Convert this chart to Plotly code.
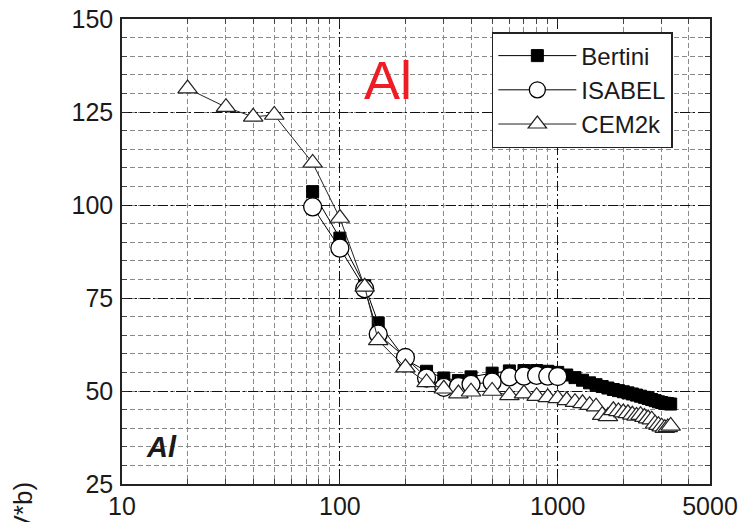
import plotly.graph_objects as go

# ---- data ----
cem_E = [20, 30, 40, 50, 75, 100, 130, 150, 200, 250, 300, 350, 400, 500, 600, 700, 800, 900, 1000,
         1100, 1200, 1300, 1400, 1500, 1600, 1700, 1800, 1900, 2000, 2100, 2200, 2300, 2400, 2500,
         2600, 2700, 2800, 2900, 3000, 3100, 3200, 3300]
cem_Y = [131.3, 126.3, 123.7, 124.2, 111.3, 96.5, 78.0, 63.6, 56.3, 52.3, 50.6, 49.3, 49.8, 50.0, 48.8,
         49.3, 48.6, 48.3, 48.0,
         47.5, 47.0, 46.7, 46.2, 45.8, 43.5, 43.2, 44.8, 44.5, 44.2, 44.0, 43.6, 43.3, 43.5, 43.0,
         42.6, 42.3, 41.2, 40.8, 40.4, 40.0, 40.2, 40.6]

bertini_E = [75, 100, 130, 150, 200, 250, 300, 350, 400, 500, 600, 700, 800, 900, 1000,
             1100, 1200, 1300, 1400, 1500, 1600, 1700, 1800, 1900, 2000, 2100, 2200, 2300, 2400, 2500,
             2600, 2700, 2800, 2900, 3000, 3100, 3200, 3300]
bertini_Y = [103.6, 91.1, 78.3, 68.3, 58.5, 55.3, 53.5, 52.8, 53.8, 54.8, 55.4, 55.5, 55.5, 55.3, 55.0,
             54.3, 53.6, 52.9, 52.2, 51.7, 51.2, 50.8, 50.4, 50.1, 49.8, 49.5, 49.2, 48.9, 48.6, 48.3,
             48.0, 47.7, 47.4, 47.1, 46.9, 46.7, 46.6, 46.5]

isabel_E = [75, 100, 130, 150, 200, 250, 300, 350, 400, 500, 600, 700, 800, 900, 1000]
isabel_Y = [99.5, 88.4, 77.5, 65.3, 59.0, 53.5, 51.0, 51.2, 51.8, 52.4, 53.8, 54.0, 54.2, 54.0, 53.9]

x_ticks = [10, 100, 1000, 5000]
x_minor = [20, 30, 40, 50, 60, 70, 80, 90, 200, 300, 400, 500, 600, 700, 800, 900, 2000, 3000, 4000]
y_ticks = [25, 50, 75, 100, 125, 150]

FONT = "Liberation Sans, Arial, Helvetica, sans-serif"
INK = "#1a1a1a"

fig = go.Figure()
fig.add_trace(go.Scatter(
    x=bertini_E, y=bertini_Y, name="Bertini", mode="lines+markers",
    line=dict(color="black", width=1),
    marker=dict(symbol="square", size=12, color="black", line=dict(color="black", width=1))))
fig.add_trace(go.Scatter(
    x=isabel_E, y=isabel_Y, name="ISABEL", mode="lines+markers",
    line=dict(color="black", width=1),
    marker=dict(symbol="circle", size=18, color="white", line=dict(color="black", width=1.3))))
fig.add_trace(go.Scatter(
    x=cem_E, y=cem_Y, name="CEM2k", mode="lines+markers",
    line=dict(color="#222222", width=1),
    marker=dict(symbol="triangle-up", size=17, color="white", line=dict(color="#222222", width=1.2))))

fig.update_xaxes(
    type="log", range=[1, 3.69897], automargin=False,
    tickmode="array", tickvals=x_ticks, ticktext=[str(v) for v in x_ticks],
    tickfont=dict(family=FONT, size=25, color=INK),
    showline=True, linecolor="#222222", linewidth=1.5, mirror="ticks",
    ticks="inside", ticklen=6, tickcolor="#222222",
    showgrid=True, gridcolor="#111111", gridwidth=1.2, griddash="10px,3px,2px,3px",
    minor=dict(tickmode="array", tickvals=x_minor, ticks="inside", ticklen=5, tickcolor="#444444",
               showgrid=True, gridcolor="#8a8a8a", gridwidth=1, griddash="5px,3px"),
    zeroline=False, ticklabelstandoff=-1,
)
fig.update_yaxes(
    range=[25, 150], automargin=False,
    tickmode="array", tickvals=y_ticks,
    tickfont=dict(family=FONT, size=25, color=INK),
    showline=True, linecolor="#222222", linewidth=1.5, mirror="ticks",
    ticks="inside", ticklen=6, tickcolor="#222222",
    showgrid=True, gridcolor="#111111", gridwidth=1.2, griddash="10px,3px,2px,3px",
    minor=dict(dtick=5, ticks="inside", ticklen=5, tickcolor="#444444",
               showgrid=True, gridcolor="#8a8a8a", gridwidth=1, griddash="5px,3px"),
    zeroline=False, ticklabelstandoff=2,
)

fig.add_annotation(text="Al", xref="paper", yref="paper", x=0.452, y=0.869,
                   xanchor="center", yanchor="middle",
                   showarrow=False, font=dict(family=FONT, size=54, color="#ee1c25"))
fig.add_annotation(text="<b><i>Al</i></b>", xref="paper", yref="paper", x=0.068, y=0.080,
                   xanchor="center", yanchor="middle",
                   showarrow=False, font=dict(family=FONT, size=29, color=INK))
fig.add_annotation(text="E·σ (MeV*b)", xref="paper", yref="paper", x=-0.168, y=0.009,
                   xanchor="center", yanchor="top", textangle=-90,
                   showarrow=False, font=dict(family=FONT, size=26, color=INK))

fig.update_layout(
    width=740, height=522,
    margin=dict(l=122, r=30, t=19, b=38),
    paper_bgcolor="white", plot_bgcolor="white",
    showlegend=True,
    legend=dict(x=0.629, y=0.972, xanchor="left", yanchor="top",
                bgcolor="white", bordercolor="#222222", borderwidth=1.5,
                font=dict(family=FONT, size=24, color=INK),
                itemwidth=78, tracegroupgap=0),
)

fig.write_html("out.html")
